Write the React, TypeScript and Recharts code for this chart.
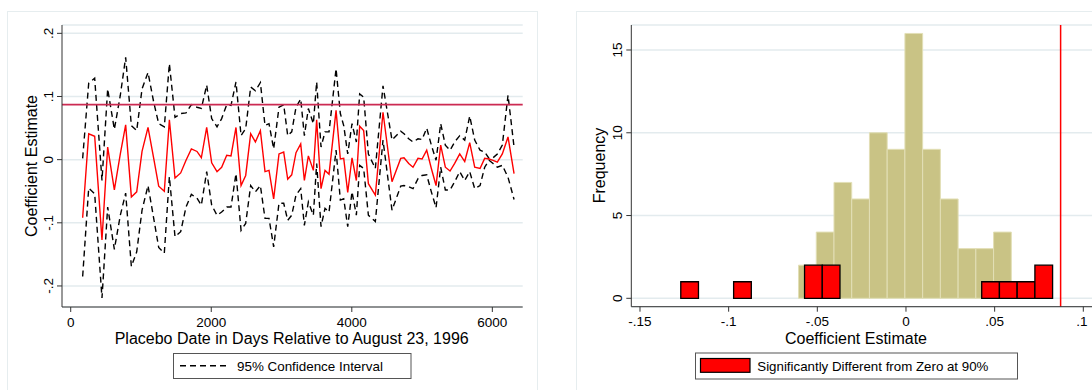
import {
  CartesianGrid,
  ComposedChart,
  Line,
  LineChart,
  ReferenceArea,
  ReferenceLine,
  XAxis,
  YAxis,
} from "recharts";

const FONT = '"Liberation Sans", Arial, Helvetica, sans-serif';

// left panel: placebo estimates by date
const placeboDays = [
  170, 256, 341, 445, 526, 621, 706, 782, 863, 939, 1015, 1100, 1181, 1252,
  1332, 1404, 1484, 1565, 1641, 1717, 1797, 1859, 1935, 2006, 2082, 2148, 2220,
  2281, 2352, 2424, 2490, 2561, 2628, 2699, 2765, 2822, 2888, 2964, 3031, 3088,
  3145, 3206, 3273, 3325, 3382, 3453, 3500, 3562, 3619, 3676, 3776, 3837, 3885,
  3942, 4003, 4065, 4112, 4169, 4236, 4335, 4444, 4572, 4696, 4743, 4810, 4871,
  4942, 5000, 5066, 5132, 5199, 5265, 5331, 5398, 5464, 5536, 5607, 5678, 5749,
  5825, 5891, 5953, 6010, 6071, 6142, 6223, 6309,
];
const estimates = [
  -0.092, 0.041, 0.037, -0.127, 0.02, -0.048, 0.009, 0.055, -0.059, -0.051,
  0.013, 0.051, 0.002, -0.042, -0.05, 0.063, -0.029, -0.021, -0.001, 0.017,
  0.013, 0.003, 0.051, -0.005, -0.019, -0.012, 0.007, 0.006, 0.051, -0.041,
  -0.025, 0.041, 0.028, 0.046, -0.019, -0.017, -0.062, 0.009, 0.012, -0.031,
  -0.024, 0.011, 0.025, -0.033, 0.006, -0.017, 0.063, -0.046, -0.017, -0.023,
  0.078, 0.001, 0.002, -0.052, 0.003, -0.033, 0.053, 0.046, -0.038, -0.056,
  0.075, -0.035, 0.002, 0.003, -0.006, -0.012, 0.002, 0.001, 0.015, -0.014,
  -0.041, 0.023, -0.012, -0.018, -0.006, 0.009, -0.003, 0.027, -0.012, -0.014,
  0.002, 0.001, -0.001, -0.004, 0.009, 0.036, -0.022,
];
const upperCI = [
  0.002, 0.121, 0.129, -0.033, 0.112, 0.048, 0.102, 0.162, 0.054, 0.046, 0.112,
  0.138, 0.091, 0.057, 0.052, 0.152, 0.067, 0.073, 0.074, 0.087, 0.083, 0.081,
  0.118, 0.065, 0.052, 0.065, 0.087, 0.086, 0.123, 0.038, 0.049, 0.115, 0.109,
  0.122, 0.054, 0.057, 0.017, 0.083, 0.087, 0.038, 0.044, 0.083, 0.096, 0.038,
  0.081, 0.057, 0.123, 0.02, 0.044, 0.044, 0.144, 0.073, 0.054, 0.009, 0.057,
  0.028, 0.104, 0.099, 0.009, -0.014, 0.117, 0.031, 0.045, 0.041, 0.033, 0.028,
  0.033, 0.032, 0.05, 0.023, -0.001, 0.057, 0.023, 0.015, 0.028, 0.038, 0.031,
  0.069, 0.031, 0.015, 0.012, 0.002, 0.003, 0.009, 0.023, 0.102, 0.02,
];
const lowerCI = [
  -0.185, -0.045, -0.054, -0.219, -0.075, -0.142, -0.088, -0.053, -0.169,
  -0.146, -0.08, -0.041, -0.093, -0.139, -0.148, -0.027, -0.122, -0.114, -0.075,
  -0.055, -0.061, -0.072, -0.019, -0.072, -0.088, -0.083, -0.075, -0.075,
  -0.022, -0.112, -0.101, -0.041, -0.051, -0.041, -0.093, -0.093, -0.138,
  -0.069, -0.069, -0.096, -0.088, -0.056, -0.046, -0.104, -0.067, -0.088,
  -0.006, -0.106, -0.077, -0.083, 0.015, -0.064, -0.062, -0.106, -0.051, -0.088,
  -0.009, -0.014, -0.088, -0.098, 0.031, -0.08, -0.042, -0.041, -0.043, -0.046,
  -0.03, -0.025, -0.024, -0.051, -0.076, -0.012, -0.048, -0.048, -0.035, -0.019,
  -0.033, -0.019, -0.046, -0.041, -0.012, -0.001, -0.006, -0.012, -0.009,
  -0.028, -0.063,
];
const dayTicks = [0, 2000, 4000, 6000];
const coefTicks = [-0.2, -0.1, 0, 0.1, 0.2];
const actualEstimate = 0.087;

// right panel: histogram of placebo estimates
const allBinLeft = [
  -0.0606, -0.0506, -0.0406, -0.0306, -0.0206, -0.0106, -0.0006, 0.0094, 0.0194,
  0.0294, 0.0394, 0.0494,
];
const allCounts = [2, 4, 7, 6, 10, 9, 16, 9, 6, 3, 3, 4];
const allBinWidth = 0.01;
const sigBinLeft = [-0.127, -0.0972, -0.0572, -0.0472, 0.0427, 0.0527, 0.0627, 0.0727];
const sigCounts = [1, 1, 2, 2, 1, 1, 1, 2];
const sigBinWidth = 0.00998;
const freqTicks = [0, 5, 10, 15];
const estTicks = [-0.15, -0.1, -0.05, 0, 0.05, 0.1];
const histLine = 0.0872;

const ciData = placeboDays.map((d, i) => ({
  day: d,
  est: estimates[i],
  upper: upperCI[i],
  lower: lowerCI[i],
}));
const histData = allBinLeft.map((l, i) => ({ x: l + allBinWidth / 2, n: allCounts[i] }));

// stata style labels: .1, -.05
const fmt = (v: number) => {
  if (v === 0) return "0";
  const s = String(Math.abs(v)).replace(/^0\./, ".");
  return (v < 0 ? "-" : "") + s;
};

const BottomTick = (props: any) => {
  const { x, y, payload } = props;
  return (
    <text x={x} y={y + 12.5} textAnchor="middle" fontSize={13.5} fontFamily={FONT} fill="#000">
      {fmt(payload.value)}
    </text>
  );
};

const LeftTick = (props: any) => {
  const { x, y, payload } = props;
  const bx = x - 1.8;
  return (
    <text
      x={bx}
      y={y}
      transform={`rotate(-90, ${bx}, ${y})`}
      textAnchor="middle"
      fontSize={13.5}
      fontFamily={FONT}
      fill="#000"
    >
      {fmt(payload.value)}
    </text>
  );
};

const axisStroke = { stroke: "#333", strokeWidth: 1 };
const gridColor = "#e3ebee";
const frameColor = "#e6edef";

export default function App() {
  return (
    <div
      style={{
        position: "absolute",
        left: 0,
        top: 0,
        width: 1092,
        height: 390,
        background: "#fff",
        overflow: "hidden",
        fontFamily: FONT,
      }}
    >
      <div style={{ position: "absolute", left: 0, top: 0 }}>
        <LineChart
          width={546}
          height={390}
          data={ciData}
          margin={{ top: 25, right: 23.3, bottom: 53, left: 12 }}
        >
          <CartesianGrid vertical={false} stroke={gridColor} strokeWidth={1.5} />
          <XAxis
            type="number"
            dataKey="day"
            domain={[-124, 6432]}
            ticks={dayTicks}
            allowDataOverflow
            height={30}
            tickSize={5}
            axisLine={axisStroke}
            tickLine={axisStroke}
            tick={BottomTick}
          />
          <YAxis
            type="number"
            domain={[-0.2333, 0.2132]}
            ticks={coefTicks}
            allowDataOverflow
            width={50}
            tickSize={5}
            axisLine={axisStroke}
            tickLine={axisStroke}
            tick={LeftTick}
          />
          <Line
            type="linear"
            dataKey="upper"
            stroke="#000"
            strokeWidth={1.4}
            strokeDasharray="6 4"
            dot={false}
            isAnimationActive={false}
          />
          <Line
            type="linear"
            dataKey="lower"
            stroke="#000"
            strokeWidth={1.4}
            strokeDasharray="6 4"
            dot={false}
            isAnimationActive={false}
          />
          <Line
            type="linear"
            dataKey="est"
            stroke="#ff0000"
            strokeWidth={1.4}
            dot={false}
            isAnimationActive={false}
          />
          <ReferenceLine y={actualEstimate} stroke="#cc2a52" strokeWidth={1.8} />
        </LineChart>
      </div>

      <div style={{ position: "absolute", left: 560, top: 0 }}>
        <ComposedChart
          width={532}
          height={390}
          data={histData}
          margin={{ top: 25, right: 0, bottom: 53.3, left: 21.3 }}
        >
          <CartesianGrid vertical={false} stroke={gridColor} strokeWidth={1.5} />
          <XAxis
            type="number"
            dataKey="x"
            domain={[-0.1549, 0.1049]}
            ticks={estTicks}
            allowDataOverflow
            height={30}
            tickSize={5}
            axisLine={axisStroke}
            tickLine={axisStroke}
            tick={BottomTick}
          />
          <YAxis
            type="number"
            domain={[-0.507, 16.51]}
            ticks={freqTicks}
            allowDataOverflow
            width={50}
            tickSize={5}
            axisLine={axisStroke}
            tickLine={axisStroke}
            tick={LeftTick}
          />
          {allBinLeft.map((l, i) => (
            <ReferenceArea
              key={`a${i}`}
              x1={l}
              x2={l + allBinWidth}
              y1={0}
              y2={allCounts[i]}
              fill="#c9c385"
              fillOpacity={1}
              stroke="#e2dfb6"
              strokeWidth={1}
            />
          ))}
          {sigBinLeft.map((l, i) => (
            <ReferenceArea
              key={`s${i}`}
              x1={l}
              x2={l + sigBinWidth}
              y1={0}
              y2={sigCounts[i]}
              fill="#ff0000"
              fillOpacity={1}
              stroke="#000"
              strokeWidth={1.3}
            />
          ))}
          <ReferenceLine x={histLine} stroke="#ff0000" strokeWidth={1.5} />
        </ComposedChart>
      </div>

      <svg
        width={1092}
        height={390}
        style={{ position: "absolute", left: 0, top: 0, pointerEvents: "none" }}
        fontFamily={FONT}
      >
        <rect x={7.5} y={11.5} width={530} height={400} fill="none" stroke={frameColor} />
        <rect x={576.5} y={11.5} width={600} height={400} fill="none" stroke={frameColor} />

        <text x={37} y={166} transform="rotate(-90, 37, 166)" textAnchor="middle" fontSize={16}>
          Coefficient Estimate
        </text>
        <text x={291.7} y={343.5} textAnchor="middle" fontSize={16}>
          Placebo Date in Days Relative to August 23, 1996
        </text>
        <rect x={173.5} y={353.5} width={237.5} height={25} fill="#fff" stroke="#555" />
        <line x1={180} x2={230} y1={365.7} y2={365.7} stroke="#000" strokeWidth={1.4} strokeDasharray="6 4" />
        <text x={237} y={371} fontSize={13.4}>
          95% Confidence Interval
        </text>

        <text x={605} y={165.5} transform="rotate(-90, 605, 165.5)" textAnchor="middle" fontSize={16}>
          Frequency
        </text>
        <text x={856} y={343.5} textAnchor="middle" fontSize={16}>
          Coefficient Estimate
        </text>
        <rect x={695.5} y={353} width={322} height={26} fill="#fff" stroke="#555" />
        <rect x={700.5} y={358.5} width={49.5} height={13.8} fill="#ff0000" stroke="#000" strokeWidth={1.2} />
        <text x={757.3} y={371} fontSize={13.3}>
          Significantly Different from Zero at 90%
        </text>
      </svg>
    </div>
  );
}
